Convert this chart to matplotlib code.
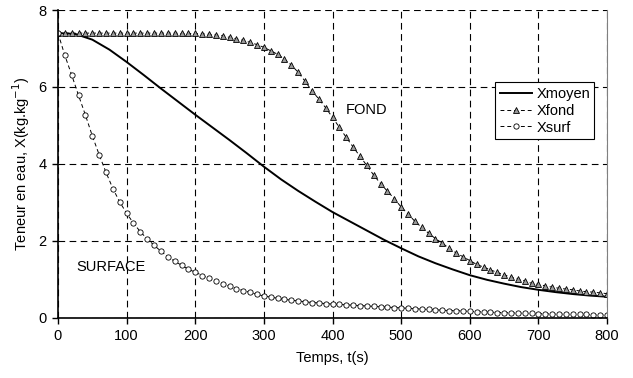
import matplotlib
matplotlib.use('Agg')
import matplotlib.pyplot as plt

plt.rcParams['font.family'] = ['Liberation Sans', 'DejaVu Sans']

t = list(range(0, 801, 10))

x_surf = [7.40, 6.82, 6.31, 5.78, 5.27, 4.73, 4.24, 3.78, 3.36, 3.01,
          2.72, 2.46, 2.24, 2.05, 1.89, 1.73, 1.59, 1.47, 1.37, 1.26,
          1.19, 1.10, 1.03, 0.96, 0.89, 0.82, 0.76, 0.71, 0.66, 0.61,
          0.57, 0.54, 0.51, 0.48, 0.46, 0.44, 0.42, 0.40, 0.39, 0.37,
          0.36, 0.35, 0.34, 0.33, 0.32, 0.31, 0.30, 0.29, 0.28, 0.27,
          0.26, 0.25, 0.24, 0.23, 0.22, 0.21, 0.20, 0.19, 0.19, 0.18,
          0.17, 0.16, 0.16, 0.15, 0.14, 0.14, 0.13, 0.13, 0.12, 0.12,
          0.11, 0.11, 0.10, 0.10, 0.10, 0.09, 0.09, 0.09, 0.08, 0.08,
          0.08]

x_fond = [7.40, 7.40, 7.40, 7.40, 7.40, 7.40, 7.40, 7.40, 7.40, 7.40,
          7.40, 7.40, 7.40, 7.40, 7.40, 7.40, 7.40, 7.40, 7.39, 7.39,
          7.39, 7.38, 7.37, 7.35, 7.33, 7.29, 7.25, 7.21, 7.16, 7.10,
          7.03, 6.94, 6.85, 6.72, 6.57, 6.38, 6.15, 5.90, 5.69, 5.46,
          5.21, 4.95, 4.69, 4.44, 4.20, 3.96, 3.71, 3.49, 3.29, 3.10,
          2.88, 2.70, 2.51, 2.35, 2.20, 2.06, 1.94, 1.81, 1.69, 1.59,
          1.49, 1.39, 1.32, 1.25, 1.18, 1.12, 1.06, 1.01, 0.96, 0.90,
          0.87, 0.83, 0.80, 0.77, 0.75, 0.73, 0.70, 0.68, 0.67, 0.65,
          0.63]

t_moy = list(range(0, 801, 25))
x_moyen = [7.40, 7.38, 7.23, 6.97, 6.65, 6.31, 5.96, 5.62, 5.28, 4.95,
           4.62, 4.28, 3.93, 3.60, 3.30, 3.02, 2.75, 2.51, 2.27, 2.03,
           1.81, 1.60, 1.42, 1.26, 1.11, 0.99, 0.89, 0.80, 0.73, 0.67,
           0.62, 0.58, 0.55]

fig = plt.figure(figsize=(6.33, 3.78), dpi=100)
ax = fig.add_axes([0.0916, 0.159, 0.8674, 0.8145])

ax.plot(t_moy, x_moyen, color='black', lw=1.4, label='Xmoyen')
ax.plot(t, x_fond, color='black', lw=0.7, ls=(0, (4, 3)), marker='^',
        ms=4.3, mfc='#999999', mec='black', mew=0.6, label='Xfond')
ax.plot(t, x_surf, color='black', lw=0.7, ls=(0, (4, 3)), marker='o',
        ms=3.8, mfc='white', mec='black', mew=0.6, label='Xsurf')

ax.set_xlim(0, 800)
ax.set_ylim(0, 8)
ax.set_xticks(range(0, 801, 100))
ax.set_yticks(range(0, 9, 2))
ax.grid(True, color='black', ls=(0, (6, 4)), lw=0.8)
ax.set_axisbelow(True)
ax.tick_params(labelsize=10.5, length=4, width=1, pad=4)
ax.spines['top'].set_visible(False)
ax.spines['right'].set_color('#808080')
ax.spines['right'].set_linewidth(0.8)
ax.spines['left'].set_linewidth(1.2)
ax.spines['bottom'].set_linewidth(1.2)

ax.set_xlabel('Temps, t(s)', fontsize=10.5, labelpad=6)
ax.set_ylabel('Teneur en eau, X(kg.kg$^{-1}$)', fontsize=10.5, labelpad=5)

ax.text(450, 5.4, 'FOND', fontsize=10.5, ha='center', va='center')
ax.text(77, 1.32, 'SURFACE', fontsize=10.5, ha='center', va='center')

leg = ax.legend(loc='upper right', bbox_to_anchor=(0.977, 0.765), fontsize=10.5,
                frameon=True, fancybox=False, edgecolor='black', framealpha=1,
                numpoints=1, handlelength=2.2, borderpad=0.3, labelspacing=0.2,
                handletextpad=0.3, borderaxespad=0)
leg.get_frame().set_linewidth(0.8)

fig.savefig('out.png', dpi=100)
